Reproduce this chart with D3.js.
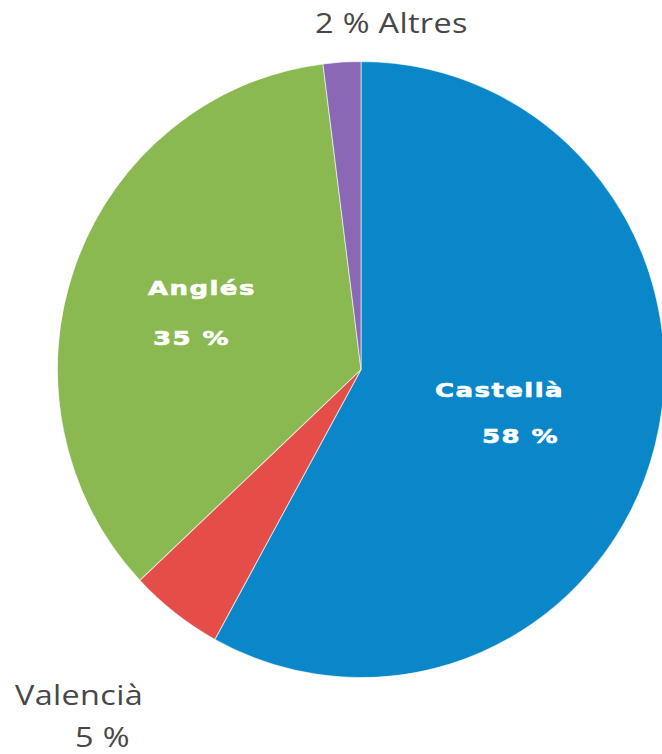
<!DOCTYPE html>
<html>
<head>
<meta charset="utf-8">
<script src="https://cdn.jsdelivr.net/npm/d3@7"></script>
<style>
  body { margin: 0; background: #fff; }
  svg { display: block; }
</style>
</head>
<body>
<div id="chart-area"></div>
<script>

const WIDTH = 662
const HEIGHT = 754

const CENTER = { X: 361, Y: 369.5 }
const RADIUS = 305

// data
const languages = ['Castellà', 'Valencià', 'Anglés', 'Altres']
const shares = [58, 5, 35, 2]
const colors = ['#0a87c9', '#e44d48', '#8bb951', '#8a68b6']

const data = languages.map((d, i) => ({ name: d, value: shares[i] }))

const svg = d3.select('#chart-area').append('svg')
    .attr('width', WIDTH)
    .attr('height', HEIGHT)

// the original picture is a touch taller than wide
const g = svg.append('g')
    .attr('transform', `translate(${CENTER.X}, ${CENTER.Y}) scale(0.995, 1.01)`)

const pie = d3.pie()
    .sort(null)
    .value(d => d.value)

const arc = d3.arc()
    .innerRadius(0)
    .outerRadius(RADIUS)

const color = d3.scaleOrdinal()
    .domain(languages)
    .range(colors)

g.selectAll('path')
    .data(pie(data))
    .enter().append('path')
    .attr('d', arc)
    .attr('fill', d => color(d.data.name))
    .attr('stroke', 'rgba(255,255,255,0.6)')
    .attr('stroke-width', 1)

// labels inside the slices (heavy, white, wide)
const inside = [
    { t: 'Castellà', x: 435, y: 397 },
    { t: '58 %', x: 482, y: 443 },
    { t: 'Anglés', x: 148, y: 295 },
    { t: '35 %', x: 153, y: 345 }
]

svg.selectAll('.inner')
    .data(inside)
    .enter().append('text')
    .attr('class', 'inner')
    .attr('transform', d => `translate(${d.x}, ${d.y}) scale(1.3, 1)`)
    .attr('fill', '#fff')
    .attr('stroke', '#fff')
    .attr('stroke-width', 0.6)
    .attr('font-family', 'DejaVu Sans')
    .attr('font-weight', 'bold')
    .attr('font-size', 20)
    .attr('letter-spacing', 1.1)
    .text(d => d.t)

// labels outside the pie
const outside = [
    { t: '2 % Altres', x: 315, y: 33 },
    { t: 'Valencià', x: 15, y: 705 },
    { t: '5 %', x: 75, y: 747 }
]

svg.selectAll('.outer')
    .data(outside)
    .enter().append('text')
    .attr('class', 'outer')
    .attr('transform', d => `translate(${d.x}, ${d.y}) scale(1.2, 1)`)
    .attr('fill', '#474747')
    .attr('font-family', 'Open Sans')
    .attr('font-size', 27)
    .attr('letter-spacing', 0.3)
    .text(d => d.t)

</script>
</body>
</html>
